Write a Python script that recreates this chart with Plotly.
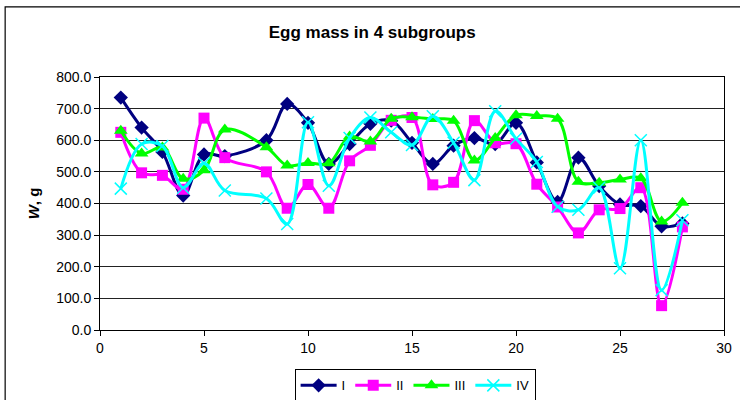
import plotly.graph_objects as go

x_vals = [1, 2, 3, 4, 5, 6, 8, 9, 10, 11, 12, 13, 14, 15, 16, 17, 18, 19, 20,
          21, 22, 23, 24, 25, 26, 27, 28]

series_I = [735, 640, 563, 425, 555, 550, 600, 715, 655, 525, 588, 652, 662, 592,
            525, 583, 607, 588, 655, 530, 405, 545, 455, 397, 392, 328, 337]
series_II = [625, 497, 489, 445, 670, 545, 500, 385, 460, 385, 535, 584, 663, 672,
             459, 467, 662, 592, 589, 461, 389, 307, 380, 384, 450, 77, 326]
series_III = [630, 558, 577, 478, 505, 634, 578, 520, 528, 527, 612, 596, 668, 673,
              667, 662, 536, 607, 679, 677, 668, 469, 466, 476, 480, 343, 402]
series_IV = [447, 588, 582, 450, 527, 441, 416, 335, 657, 456, 607, 672, 625, 585,
             676, 592, 474, 692, 605, 531, 390, 380, 450, 195, 600, 126, 347]

names = ["I", "II", "III", "IV"]
colors = ["#000080", "#FF00FF", "#00FF00", "#00FFFF"]
symbols = ["diamond", "square", "triangle-up", "x-thin"]
sizes = [11, 11, 12, 12]

y_ticks = [0, 100, 200, 300, 400, 500, 600, 700, 800]
x_ticks = [0, 5, 10, 15, 20, 25, 30]

fig = go.Figure()
for name, ys, col, sym, sz in zip(names, [series_I, series_II, series_III, series_IV],
                                  colors, symbols, sizes):
    marker = dict(symbol=sym, size=sz, color=col)
    if sym == "x-thin":
        marker["line"] = dict(color=col, width=1.5)
    fig.add_trace(go.Scatter(
        x=x_vals, y=ys, name=name, mode="lines+markers",
        line=dict(color=col, width=3, shape="spline", smoothing=1.0),
        marker=marker,
    ))

font_family = "Liberation Sans, Arial, sans-serif"

fig.update_layout(
    width=740, height=400,
    margin=dict(l=100, r=16, t=77, b=70, autoexpand=False),
    paper_bgcolor="white", plot_bgcolor="white",
    font=dict(family=font_family, size=14, color="black"),
    title=dict(text="<b>Egg mass in 4 subgroups</b>", x=0.503, xref="container",
               y=0.92, yref="container", xanchor="center", yanchor="middle",
               font=dict(size=17, color="black")),
    showlegend=True,
    legend=dict(orientation="h", x=0.505, y=-0.219, xanchor="center", yanchor="middle",
                bordercolor="black", borderwidth=1, font=dict(size=13),
                itemwidth=36, tracegroupgap=0, bgcolor="white"),
    shapes=[dict(type="rect", xref="paper", yref="paper",
                 x0=-0.152, x1=1.04, y0=-0.3, y1=1.277,
                 line=dict(color="black", width=1.2), layer="below")],
)

fig.update_xaxes(range=[0, 30], tickvals=x_ticks, ticks="outside", ticklen=5,
                 tickcolor="black", showgrid=False, zeroline=False, automargin=False,
                 showline=True, linecolor="black", linewidth=1, mirror=True,
                 tickfont=dict(size=14))
fig.update_yaxes(range=[0, 800], tickvals=y_ticks, tickformat=".1f", ticks="outside",
                 ticklen=5, tickcolor="black", showgrid=True, gridcolor="#222222",
                 gridwidth=1, zeroline=False, showline=True, linecolor="black",
                 linewidth=1, mirror=True, tickfont=dict(size=14), automargin=False,
                 title=dict(text="<b><i>W</i>, g</b>", font=dict(size=15), standoff=12))

fig.write_html("out.html", config={"displayModeBar": False},
               post_script="document.body.style.margin='0';document.body.style.padding='0';")
